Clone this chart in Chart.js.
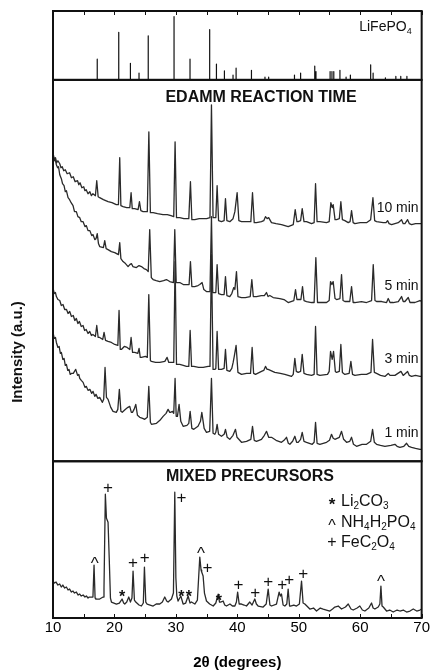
<!DOCTYPE html>
<html><head><meta charset="utf-8">
<script src="https://cdn.jsdelivr.net/npm/chart.js@4.4.1/dist/chart.umd.min.js"></script>
<style>html,body{margin:0;padding:0;background:#fff;}#wrap{width:431px;height:672px;}</style>
</head><body><div id="wrap"><canvas id="c" width="431" height="672"></canvas></div>
<script>
// ---- axis ----
const X_MIN = 10, X_MAX = 70;
const xTickLabels = [10, 20, 30, 40, 50, 60, 70];
const minorTicks = [10,15,20,25,30,35,40,45,50,55,60,65,70];

// ---- LiFePO4 reference sticks (2θ, relative intensity) ----
const stickPos = [17.2,20.7,22.6,24.0,25.5,29.7,32.3,35.5,36.6,37.9,39.3,39.8,42.3,44.5,45.1,49.3,50.3,52.6,52.8,55.1,55.4,55.7,56.7,57.7,58.4,61.7,62.1,64.1,65.8,66.6,67.6];
const stickH   = [30,69,24,10,64,92,30,73,23,13,7,17,14,4,4,7,10,20,12,12,12,12,14,4,7,22,10,3,5,5,5];

// ---- EDAMM traces [2θ, intensity] (offset stacked) ----
const t10 = [[10.0,309],[10.2,303],[10.4,304],[10.6,299],[10.8,301],[11.1,298],[11.3,294],[11.5,295],[11.75,291],[12.0,292],[12.3,288],[12.7,289],[13.0,284],[13.3,285],[13.6,280],[14.0,281],[14.2,277],[14.4,279],[14.7,274],[15.0,275],[15.2,271],[15.4,272],[15.7,268],[16.0,270],[16.25,266],[16.5,268],[16.9,266],[17.12,281],[17.35,265],[17.6,264],[18.2,262],[18.96,260],[19.6,259],[20.3,257],[20.65,257],[20.86,304],[21.05,256],[21.4,255],[22.0,254],[22.5,254],[22.71,269],[22.9,253],[23.3,253],[23.85,252],[24.07,260],[24.3,251],[24.66,250],[25.35,250],[25.6,330],[25.85,249],[26.3,249],[27.0,248],[27.9,247],[28.6,247],[29.2,246],[29.65,245],[29.87,320],[30.1,244],[30.63,244],[31.3,243],[32.1,243],[32.37,280],[32.6,242],[33.08,242],[33.8,243],[34.5,243],[35.0,243],[35.55,244],[35.79,357],[36.05,244],[36.33,244],[36.5,244],[36.71,276],[36.95,241],[37.42,240],[37.85,241],[38.07,263],[38.3,241],[38.78,240],[39.3,243],[39.6,250],[39.97,269],[40.25,241],[40.68,240],[41.5,240],[42.2,240],[42.47,269],[42.75,239],[43.12,239],[43.93,240],[44.3,241],[44.58,245],[44.85,243],[45.1,244],[45.56,239],[46.3,238],[47.19,237],[48.28,235],[49.1,237],[49.42,252],[49.7,240],[49.9,240],[50.3,241],[50.56,253],[50.85,240],[51.26,240],[52.08,238],[52.5,239],[52.73,278],[52.98,240],[53.43,240],[54.52,239],[54.95,240],[55.22,259],[55.44,254],[55.6,257],[55.9,242],[56.15,242],[56.6,243],[56.85,260],[57.1,242],[57.5,241],[58.05,239],[58.35,240],[58.59,251],[58.85,239],[59.13,238],[60.0,239],[61.03,239],[61.7,242],[62.07,264],[62.35,241],[62.66,240],[63.75,239],[64.2,239],[64.45,241],[64.7,238],[65.1,237],[66.19,239],[66.73,242],[67.0,238],[67.28,238],[67.71,242],[68.0,238],[68.36,237],[69.0,238],[69.72,238],[70,238]];
const t5 = [[10.0,307],[10.2,301],[10.35,303],[10.55,297],[10.75,294],[10.9,295],[11.1,287],[11.36,283],[11.55,278],[11.8,276],[12.0,270],[12.18,271],[12.45,264],[12.7,262],[12.95,259],[13.26,256],[13.5,250],[13.8,250],[14.05,245],[14.35,244],[14.6,240],[14.9,240],[15.2,235],[15.43,236],[15.7,231],[16.0,231],[16.3,226],[16.52,227],[16.8,222],[17.0,223],[17.2,228],[17.4,218],[17.6,215],[18.2,214],[18.42,221],[18.65,213],[18.96,212],[19.5,210],[20.05,209],[20.65,207],[20.86,219],[21.05,203],[21.4,200],[21.8,198],[22.22,195],[22.5,197],[22.76,198],[23.0,195],[23.57,194],[24.0,196],[24.39,195],[24.8,193],[25.2,192],[25.5,190],[25.74,232],[26.0,184],[26.29,182],[26.8,181],[27.37,180],[28.0,181],[28.46,182],[29.0,180],[29.6,179],[29.82,232],[30.05,179],[30.63,179],[31.2,177],[31.72,177],[32.15,177],[32.37,200],[32.6,175],[33.07,175],[33.6,176],[33.89,177],[34.27,179],[34.55,172],[34.97,170],[35.55,170],[35.79,245],[36.0,169],[36.17,169],[36.5,169],[36.71,197],[36.95,168],[37.42,167],[37.85,167],[38.07,185],[38.3,166],[38.77,165],[39.1,168],[39.42,174],[39.6,172],[39.86,190],[40.1,165],[40.67,164],[41.3,164],[42.1,165],[42.36,182],[42.6,165],[43.12,165],[43.9,166],[44.4,166],[44.74,169],[45.0,165],[45.29,166],[45.83,164],[46.92,163],[47.6,162],[48.27,159],[49.2,161],[49.47,172],[49.7,162],[49.9,162],[50.35,162],[50.61,175],[50.85,161],[51.26,160],[52.07,159],[52.5,159],[52.78,204],[53.05,159],[53.43,159],[54.52,159],[54.95,161],[55.17,180],[55.39,177],[55.6,180],[55.9,163],[56.15,162],[56.7,163],[56.96,187],[57.2,161],[57.5,160],[58.3,160],[58.59,175],[58.85,159],[59.13,159],[60.22,160],[61.03,159],[61.85,161],[62.12,197],[62.4,161],[62.66,160],[63.5,160],[64.29,159],[64.56,163],[64.85,159],[65.37,159],[66.2,160],[66.73,165],[67.0,160],[67.28,160],[67.82,164],[68.1,159],[68.9,159],[69.72,161],[70,160]];
const t3 = [[10.0,174],[10.2,168],[10.4,169],[10.55,165],[10.8,162],[11.1,161],[11.35,156],[11.63,157],[11.9,152],[12.2,152],[12.45,148],[12.72,150],[13.0,145],[13.3,146],[13.55,141],[13.8,143],[14.05,138],[14.3,140],[14.6,135],[14.89,136],[15.15,131],[15.4,132],[15.7,128],[15.98,130],[16.25,126],[16.5,127],[16.9,125],[17.12,136],[17.35,124],[17.6,124],[18.1,122],[18.31,129],[18.55,121],[18.96,120],[19.5,119],[20.05,117],[20.55,116],[20.75,151],[20.95,112],[21.13,112],[21.6,115],[22.06,114],[22.5,112],[22.71,124],[22.95,109],[23.3,109],[23.8,108],[24.01,113],[24.2,104],[24.39,104],[25.04,105],[25.35,104],[25.59,167],[25.85,101],[26.02,100],[26.7,99],[27.38,99],[28.2,100],[28.57,104],[28.85,99],[29.11,99],[29.65,99],[29.87,200],[30.1,97],[30.63,97],[31.2,96],[31.72,95],[32.1,95],[32.32,131],[32.55,95],[32.92,95],[33.7,94],[34.44,94],[35.25,95],[35.55,95],[35.79,207],[36.05,92],[36.33,92],[36.5,93],[36.71,130],[36.95,92],[37.42,92],[37.85,93],[38.07,112],[38.3,91],[38.77,90],[39.1,93],[39.32,99],[39.5,105],[39.8,116],[40.1,89],[40.68,87],[41.5,88],[42.15,88],[42.41,114],[42.65,88],[42.96,87],[43.93,90],[44.3,91],[44.58,95],[44.85,92],[45.02,92],[46.1,89],[47.0,88],[47.73,87],[48.82,85],[49.1,87],[49.36,103],[49.6,90],[49.9,89],[50.3,90],[50.56,107],[50.85,88],[51.26,87],[52.08,86],[52.5,87],[52.73,135],[52.98,87],[53.43,86],[54.68,87],[54.95,90],[55.17,110],[55.44,102],[55.66,110],[55.95,90],[56.15,89],[56.6,90],[56.85,117],[57.1,89],[57.5,87],[58.2,88],[58.48,100],[58.75,87],[59.13,86],[60.2,87],[61.03,87],[61.75,89],[62.01,122],[62.3,89],[62.66,88],[63.3,86],[64.02,85],[64.56,88],[64.85,86],[65.65,86],[66.63,90],[67.0,86],[67.71,90],[68.0,86],[68.36,85],[69.0,86],[69.72,85],[70,85]];
const t1 = [[10.0,129],[10.2,123],[10.4,124],[10.55,119],[10.8,114],[11.0,115],[11.2,108],[11.36,109],[11.6,102],[11.8,103],[12.0,96],[12.18,97],[12.4,91],[12.6,92],[12.8,87],[12.99,88],[13.3,88],[13.7,92],[14.0,86],[14.2,87],[14.35,83],[14.6,81],[14.9,79],[15.2,74],[15.43,75],[15.7,71],[16.0,72],[16.3,68],[16.52,70],[16.8,65],[17.0,67],[17.3,63],[17.6,64],[18.04,59],[18.25,62],[18.47,94],[18.7,64],[18.96,62],[19.4,54],[19.77,50],[20.3,49],[20.55,52],[20.8,72],[21.05,50],[21.27,49],[21.8,52],[22.2,54],[22.49,55],[22.75,49],[22.93,49],[23.2,52],[23.47,57],[23.75,46],[24.12,44],[24.6,43],[24.93,42],[25.35,44],[25.59,75],[25.85,39],[26.02,37],[26.84,38],[27.4,41],[27.92,45],[28.4,48],[28.73,52],[29.0,49],[29.11,49],[29.44,50],[29.65,48],[29.87,83],[30.05,45],[30.25,45],[30.52,57],[30.8,40],[31.18,35],[31.8,36],[32.1,38],[32.32,50],[32.6,33],[32.92,32],[33.6,35],[34.0,40],[34.22,49],[34.6,33],[34.98,29],[35.5,30],[35.79,83],[36.05,28],[36.33,27],[36.5,29],[36.71,37],[36.95,27],[37.42,25],[37.85,27],[38.07,32],[38.35,24],[38.77,22],[39.3,26],[39.7,32],[39.95,24],[40.68,19],[41.5,20],[42.2,22],[42.47,35],[42.75,21],[43.12,20],[43.93,22],[44.4,26],[44.75,30],[45.1,24],[45.56,24],[46.3,21],[47.19,19],[47.6,21],[48.0,24],[48.3,18],[48.55,17],[49.0,20],[49.36,25],[49.65,19],[49.9,19],[50.3,22],[50.56,29],[50.85,20],[51.26,19],[52.19,17],[52.5,19],[52.73,39],[52.98,18],[53.43,17],[54.52,19],[55.0,21],[55.33,27],[55.6,23],[55.88,22],[56.6,24],[56.96,30],[57.3,22],[57.78,19],[58.3,20],[58.59,24],[58.9,17],[59.4,15],[60.3,17],[61.03,17],[61.7,20],[62.01,32],[62.3,19],[62.66,17],[63.3,16],[64.02,15],[65.0,16],[65.65,17],[66.0,15],[66.46,14],[67.1,15],[67.55,18],[67.9,15],[68.36,14],[69.0,13],[69.72,12],[70,12]];

// ---- Mixed precursors trace ----
const tMix = [[10.0,37],[10.25,35],[10.5,36],[10.8,33],[11.09,34],[11.35,31],[11.6,33],[11.9,30],[12.18,31],[12.45,28],[12.7,29],[13.0,26],[13.26,27],[13.5,25],[13.8,26],[14.1,23],[14.35,24],[14.6,22],[14.9,23],[15.2,21],[15.43,22],[15.7,20],[15.9,21],[16.25,21],[16.5,21],[16.68,53],[16.85,20],[16.95,19],[17.6,19],[18.15,21],[18.3,30],[18.52,124],[18.7,100],[18.96,96],[19.15,60],[19.35,20],[19.51,16],[20.32,14],[20.8,15],[21.24,19],[21.5,15],[21.68,14],[22.0,16],[22.33,21],[22.6,16],[22.85,20],[23.03,47],[23.25,18],[23.47,16],[24.0,13],[24.39,12],[24.7,15],[24.88,51],[25.1,16],[25.32,14],[25.8,13],[26.3,12],[26.8,14],[27.38,14],[27.8,16],[28.19,21],[28.5,17],[28.73,16],[29.28,19],[29.6,25],[29.82,126],[30.0,40],[30.15,22],[30.36,17],[30.8,22],[31.18,14],[31.6,15],[31.99,22],[32.3,15],[32.53,16],[33.08,14],[33.5,18],[33.7,40],[33.89,61],[34.1,48],[34.2,46],[34.43,42],[34.65,25],[34.98,17],[35.5,14],[36.07,12],[36.5,15],[36.88,24],[37.1,16],[37.26,16],[37.69,17],[37.95,13],[38.23,12],[38.8,14],[39.2,12],[39.6,12],[39.85,16],[40.05,26],[40.3,14],[40.67,14],[41.1,13],[41.49,12],[42.03,16],[42.4,13],[42.84,19],[43.1,14],[43.39,12],[44.2,11],[44.7,14],[45.02,29],[45.3,13],[45.56,12],[46.37,14],[46.8,26],[47.0,22],[47.19,24],[47.45,13],[47.73,12],[48.05,14],[48.27,29],[48.5,12],[48.65,12],[49.2,13],[49.63,12],[50.1,14],[50.45,37],[50.7,15],[50.99,14],[51.8,9],[52.4,10],[52.89,7],[53.5,10],[53.97,9],[54.5,8],[55.06,7],[55.5,9],[55.87,11],[56.42,12],[56.96,9],[57.6,11],[58.05,14],[58.5,9],[58.86,8],[59.5,10],[59.94,12],[60.35,8],[60.76,7],[61.4,10],[61.84,15],[62.1,10],[62.39,9],[62.93,11],[63.2,14],[63.37,32],[63.55,12],[63.75,11],[64.29,7],[64.8,8],[65.37,6],[66.0,8],[66.46,7],[67.0,8],[67.55,6],[68.1,7],[68.63,9],[69.2,7],[69.72,8],[70,9]];

// ---- phase markers on the precursor pattern ----
const markSym = ['^','+','*','+','+','+','*','*','^','+','*','+','+','+','+','+','+','^'];
const markX   = [16.79,18.96,21.24,23.03,24.93,30.9,30.9,32.1,34.1,35.14,36.98,40.18,42.9,45.02,47.3,48.44,50.72,63.37];
const markY   = [58,129.7,24,54.7,59.7,119.7,24,24,67.3,50,20.7,32.3,24.7,35.7,32.3,38,43.3,40];

const traceNames = ['10 min','5 min','3 min','1 min'];
const legendSym = ['*','^','+'];
const legendTxt = [[['Li',0],['2',1],['CO',0],['3',1]], [['NH',0],['4',1],['H',0],['2',1],['PO',0],['4',1]], [['FeC',0],['2',1],['O',0],['4',1]]];

// ---- build datasets ----
const FONT = '"Liberation Sans", Arial, Helvetica, sans-serif';
Chart.defaults.font.family = FONT;
const toPts = a => a.map(p => ({x: p[0], y: p[1]}));
const stickPts = [];
stickPos.forEach((x, i) => { stickPts.push({x, y: 0}, {x, y: stickH[i]}, {x, y: 0}); });
const lineDs = (data, axis, color, w) => ({type: 'line', data, yAxisID: axis, xAxisID: 'x', borderColor: color, borderWidth: w, pointRadius: 0, tension: 0, fill: false, borderJoinStyle: 'round'});

function rich(ctx, parts, x, y, size, align) {
  const subSize = Math.round(size * 0.64);
  let w = 0;
  parts.forEach(([t, s]) => { ctx.font = (s ? subSize : size) + 'px ' + FONT; w += ctx.measureText(t).width; });
  let cx = align === 'right' ? x - w : (align === 'center' ? x - w / 2 : x);
  ctx.textAlign = 'left'; ctx.textBaseline = 'alphabetic';
  parts.forEach(([t, s]) => { ctx.font = (s ? subSize : size) + 'px ' + FONT; ctx.fillText(t, cx, s ? y + 3 : y); cx += ctx.measureText(t).width; });
}

const overlay = {
  id: 'overlay',
  afterDraw(chart) {
    const {ctx, chartArea: a, scales} = chart;
    const xs = scales.x, yb = scales.yBot;
    ctx.save();
    ctx.strokeStyle = '#111'; ctx.lineWidth = 2;
    ['yTop', 'yMid', 'yBot'].forEach(id => { const s = scales[id]; ctx.strokeRect(a.left, s.top, a.right - a.left, s.bottom - s.top); });
    ctx.lineWidth = 1;
    ctx.beginPath();
    minorTicks.forEach(v => { const px = Math.round(xs.getPixelForValue(v)) + 0.5; ctx.moveTo(px, a.bottom); ctx.lineTo(px, a.bottom - 4); ctx.moveTo(px, a.top); ctx.lineTo(px, a.top + 4); });
    ctx.stroke();
    ctx.fillStyle = '#111';
    // panel titles
    rich(ctx, [['LiFePO', 0], ['4', 1]], a.right - 10, scales.yTop.top + 20, 14, 'right');
    ctx.font = 'bold 16px ' + FONT; ctx.textAlign = 'center'; ctx.textBaseline = 'alphabetic';
    ctx.fillText('EDAMM REACTION TIME', 261, scales.yMid.top + 22);
    ctx.fillText('MIXED PRECURSORS', 250, yb.top + 20);
    // trace labels
    const ym = scales.yMid;
    const labY = [250, 172, 98, 24];
    ctx.font = '14px ' + FONT; ctx.textAlign = 'right';
    traceNames.forEach((t, i) => ctx.fillText(t, a.right - 3, ym.getPixelForValue(labY[i])));
    // legend
    const rows = [117, 96, 76];
    legendSym.forEach((s, i) => {
      const yy = yb.getPixelForValue(rows[i]);
      ctx.font = (s === '*' ? 'bold 17px ' : '16px ') + FONT; ctx.textAlign = 'center'; ctx.textBaseline = 'middle';
      ctx.fillText(s, 332, yy + (s === '+' ? 0 : 4));
      rich(ctx, legendTxt[i], 341, yy + 5, 16, 'left');
    });
    // markers
    ctx.textAlign = 'center'; ctx.textBaseline = 'middle';
    markSym.forEach((s, i) => {
      const px = xs.getPixelForValue(markX[i]), py = yb.getPixelForValue(markY[i]);
      ctx.font = (s === '*' ? 'bold 16px ' : '17px ') + FONT;
      ctx.fillText(s, px, py + (s === '+' ? 0 : 4));
    });
    // y title
    ctx.translate(18, 352); ctx.rotate(-Math.PI / 2);
    ctx.font = 'bold 15px ' + FONT; ctx.textAlign = 'center'; ctx.textBaseline = 'middle';
    ctx.fillText('Intensity (a.u.)', 0, 0);
    ctx.restore();
  }
};

const ySpec = {display: true, ticks: {display: false}, grid: {display: false, drawTicks: false}, border: {display: false}, stack: 'panels'};
new Chart(document.getElementById('c'), {
  type: 'line',
  data: {datasets: [
    lineDs(stickPts, 'yTop', '#111', 1.2),
    lineDs(toPts(t10), 'yMid', '#2a2a2a', 1.3),
    lineDs(toPts(t5), 'yMid', '#2a2a2a', 1.3),
    lineDs(toPts(t3), 'yMid', '#2a2a2a', 1.3),
    lineDs(toPts(t1), 'yMid', '#2a2a2a', 1.3),
    lineDs(toPts(tMix), 'yBot', '#2a2a2a', 1.3)
  ]},
  options: {
    responsive: false, animation: false, devicePixelRatio: 1,
    layout: {padding: {left: 53, right: 9, top: 11, bottom: 0}},
    plugins: {legend: {display: false}, tooltip: {enabled: false}},
    scales: {
      x: {type: 'linear', position: 'bottom', min: X_MIN, max: X_MAX,
          afterBuildTicks: s => { s.ticks = xTickLabels.map(v => ({value: v})); },
          ticks: {autoSkip: false, maxRotation: 0, font: {size: 15}, color: '#000', padding: 1},
          grid: {display: false, drawTicks: false}, border: {display: false},
          title: {display: true, text: '2θ (degrees)', font: {size: 15, weight: 'bold'}, color: '#000', padding: {top: 16, bottom: 0}}},
      yTop: {...ySpec, min: 0, max: 100, stackWeight: 69, weight: 3},
      yMid: {...ySpec, min: 0, max: 382, stackWeight: 382, weight: 2},
      yBot: {...ySpec, min: 0, max: 157, stackWeight: 157, weight: 1}
    }
  },
  plugins: [overlay]
});
</script></body></html>
